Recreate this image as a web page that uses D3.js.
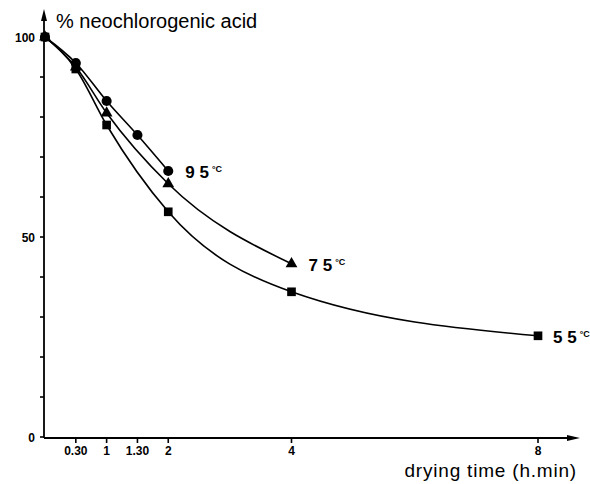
<!DOCTYPE html>
<html>
<head>
<meta charset="utf-8">
<script src="https://cdn.jsdelivr.net/npm/d3@7"></script>
<style>
  body { margin: 0; background: #fff; }
  text { font-family: "Liberation Sans", Arial, sans-serif; fill: #000; }
</style>
</head>
<body>
<div id="chart"></div>
<script>
// data: drying time in hours, % neochlorogenic acid remaining
const hours95 = [0, 0.5, 1, 1.5, 2];
const pct95 = [100, 93.5, 84, 75.5, 66.5];
const hours75 = [0, 0.5, 1, 2, 4];
const pct75 = [100, 92.5, 81, 63.3, 43.3];
const hours55 = [0, 0.5, 1, 2, 4, 8];
const pct55 = [100, 92, 78, 56.3, 36.3, 25.3];
const xTicks = [0.5, 1, 1.5, 2, 4, 8];
const xTickLabels = ["0.30", "1", "1.30", "2", "4", "8"];
const yTicks = [0, 10, 20, 30, 40, 50, 60, 70, 80, 90, 100];
const yTickLabels = ["0", "50", "100"];

const W = 590, H = 484;
const svg = d3.select("#chart").append("svg")
  .attr("width", W).attr("height", H);

const x = d3.scaleLinear().domain([0, 8]).range([45, 538]);
const y = d3.scaleLinear().domain([0, 100]).range([437, 37]);

const x0 = 44, y0 = 438;

// axes lines with arrows
svg.append("line").attr("x1", x0).attr("x2", x0).attr("y1", y0).attr("y2", 14)
  .attr("stroke", "#000").attr("stroke-width", 1.8);
svg.append("path").attr("d", `M${x0},9 L${x0-3},21 L${x0+3},21 Z`).attr("fill", "#000");
svg.append("line").attr("x1", x0).attr("x2", 575).attr("y1", y0).attr("y2", y0)
  .attr("stroke", "#000").attr("stroke-width", 1.8);
svg.append("path").attr("d", `M580,${y0} L567,${y0-3} L567,${y0+3} Z`).attr("fill", "#000");

// y ticks
svg.selectAll(".ytick").data(yTicks).join("line")
  .attr("x1", x0 - 4).attr("x2", x0)
  .attr("y1", d => y(d)).attr("y2", d => y(d))
  .attr("stroke", "#000").attr("stroke-width", 1.6);
svg.selectAll(".ylab").data(yTickLabels).join("text")
  .attr("x", 35).attr("y", d => y(+d) + 5)
  .attr("text-anchor", "end")
  .attr("font-family", "'DejaVu Sans', sans-serif")
  .attr("font-weight", "bold").attr("font-size", 12)
  .text(d => d);

// x ticks
svg.selectAll(".xtick").data(xTicks).join("line")
  .attr("x1", d => x(d)).attr("x2", d => x(d))
  .attr("y1", y0).attr("y2", y0 + 5)
  .attr("stroke", "#000").attr("stroke-width", 1.6);
svg.selectAll(".xlab").data(xTicks).join("text")
  .attr("x", d => x(d)).attr("y", y0 + 17)
  .attr("text-anchor", "middle")
  .attr("font-family", "'DejaVu Sans', sans-serif")
  .attr("font-weight", "bold").attr("font-size", 12)
  .text((d, i) => xTickLabels[i]);

// axis titles
svg.append("text").attr("x", 56).attr("y", 28).attr("font-size", 20)
  .text("% neochlorogenic acid");
svg.append("text").attr("x", 577).attr("y", 477).attr("font-size", 19)
  .attr("letter-spacing", 0.8)
  .attr("text-anchor", "end").text("drying time (h.min)");

const line = d3.line().x(d => x(d[0])).y(d => y(d[1])).curve(d3.curveMonotoneX);
const series = [
  {h: hours95, p: pct95, shape: "circle"},
  {h: hours75, p: pct75, shape: "triangle"},
  {h: hours55, p: pct55, shape: "square"}
];
series.forEach(s => {
  const pts = s.h.map((h, i) => [h, s.p[i]]);
  svg.append("path").datum(pts).attr("d", line)
    .attr("fill", "none").attr("stroke", "#000").attr("stroke-width", 1.6);
  const sym = s.shape === "circle" ? d3.symbolCircle
    : s.shape === "triangle" ? d3.symbolTriangle : d3.symbolSquare;
  const size = s.shape === "circle" ? 80 : s.shape === "triangle" ? 60 : 75;
  svg.selectAll(null).data(pts).join("path")
    .attr("transform", d => `translate(${x(d[0])},${y(d[1])})`)
    .attr("d", d3.symbol().type(sym).size(size))
    .attr("fill", "#000");
});

// series labels
const labels = [
  {t: "9 5", h: 2, p: pct95[4], dx: 17},
  {t: "7 5", h: 4, p: pct75[4], dx: 17},
  {t: "5 5", h: 8, p: pct55[5], dx: 15}
];
labels.forEach(l => {
  const g = svg.append("text")
    .attr("x", x(l.h) + l.dx).attr("y", y(l.p) + 7)
    .attr("font-family", "'Liberation Sans Narrow', 'DejaVu Sans Condensed', sans-serif")
    .attr("font-weight", "bold").attr("font-size", 17);
  g.append("tspan").text(l.t);
  g.append("tspan").attr("dx", 3).attr("dy", -6).attr("font-size", 9).text("°C");
});
</script>
</body>
</html>
